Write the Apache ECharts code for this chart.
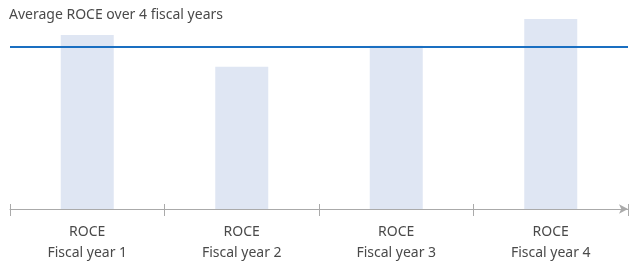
<!DOCTYPE html>
<html><head><meta charset="utf-8">
<script src="https://cdn.jsdelivr.net/npm/echarts@6/dist/echarts.min.js"></script>
<style>html,body{margin:0;padding:0;background:#fff}#c{width:629px;height:264px}</style>
</head><body><div id="c"></div>
<script>
const categories = ['ROCE\nFiscal year 1', 'ROCE\nFiscal year 2', 'ROCE\nFiscal year 3', 'ROCE\nFiscal year 4'];
const roceValues = [175, 143, 164, 191];
const averageValue = [163];
const titleText = 'Average ROCE over 4 fiscal years';

const FONT = 'Noto Sans';
const chart = echarts.init(document.getElementById('c'));
const gridCfg = {left: 10, width: 618, top: 10, bottom: 54, containLabel: false};
chart.setOption({
  animation: false,
  title: {text: titleText, left: 9, top: 8, padding: 0, textStyle: {fontFamily: FONT, fontSize: 14, fontWeight: 'normal', color: '#4a4a4a'}},
  grid: [Object.assign({}, gridCfg), Object.assign({}, gridCfg)],
  xAxis: [
    {type: 'category', data: categories, gridIndex: 0, boundaryGap: true,
     axisLine: {lineStyle: {color: '#aaaaaa', width: 1}, symbol: ['none', 'arrow'], symbolSize: [7, 9]},
     axisTick: {show: true, length: 7, lineStyle: {color: '#aaaaaa'}},
     axisLabel: {fontFamily: FONT, fontSize: 14, color: '#4a4a4a', lineHeight: 21, margin: 13}},
    {type: 'category', data: categories, gridIndex: 1, position: 'bottom', boundaryGap: true,
     axisLine: {show: false},
     axisTick: {show: true, inside: true, length: 6, lineStyle: {color: '#aaaaaa'}},
     axisLabel: {show: false}}
  ],
  yAxis: [
    {type: 'value', gridIndex: 0, min: 0, max: 200, show: false, splitLine: {show: false}},
    {type: 'value', gridIndex: 1, min: 0, max: 200, show: false, splitLine: {show: false}}
  ],
  series: [{
    type: 'bar', xAxisIndex: 0, yAxisIndex: 0, data: roceValues, barWidth: 53,
    itemStyle: {color: '#dfe6f3'},
    markLine: {silent: true, symbol: ['none', 'none'], label: {show: false},
      lineStyle: {color: '#1a6fc1', width: 2, type: 'solid'},
      data: [{yAxis: averageValue[0]}]}
  }]
});
</script></body></html>
